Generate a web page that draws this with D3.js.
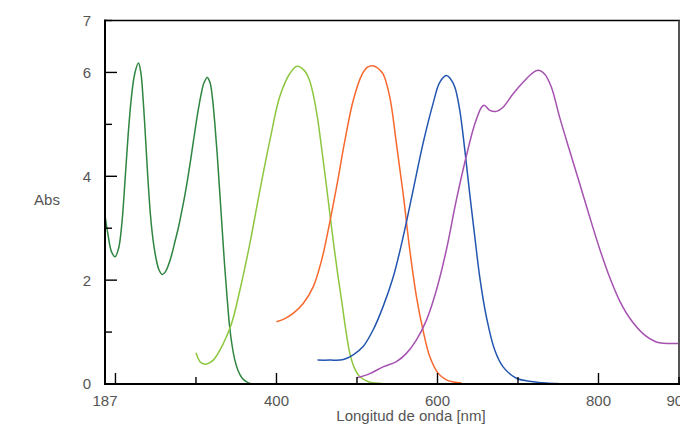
<!DOCTYPE html>
<html>
<head>
<meta charset="utf-8">
<script src="https://cdn.jsdelivr.net/npm/d3@7"></script>
<style>
  html, body { margin: 0; padding: 0; background: #fff; overflow: hidden; }
  svg { display: block; }
  text { font-family: "Liberation Sans", Arial, sans-serif; fill: #555; }
</style>
</head>
<body>
<svg id="chart" width="680" height="424"></svg>
<script>
// Absorption spectra, wavelength (nm) vs absorbance
const spectrumDarkGreen = [
  [187, 3.25], [191, 2.85], [195, 2.55], [199.5, 2.45], [204, 2.62], [208, 3.1],
  [212, 3.95], [216, 4.85], [220, 5.55], [224, 5.98], [228.5, 6.18], [231.5, 6.0],
  [234.5, 5.45], [237.5, 4.7], [240.5, 3.9], [243.5, 3.25], [246.5, 2.8],
  [250, 2.45], [254, 2.2], [258, 2.11], [262, 2.16], [266, 2.3], [270, 2.5],
  [274, 2.75], [278, 3.0], [282, 3.3], [286, 3.62], [290, 3.98], [294, 4.38],
  [298, 4.8], [302, 5.2], [306, 5.55], [310, 5.8], [314, 5.9], [317.5, 5.8],
  [320.5, 5.5], [323.5, 5.0], [326.5, 4.4], [329.5, 3.7], [332.5, 3.0],
  [335.5, 2.3], [338.5, 1.7], [341.5, 1.15], [344.5, 0.78], [348, 0.48],
  [352, 0.27], [357, 0.12], [362, 0.05], [367, 0.01], [375, 0], [392, 0]
];
const spectrumLightGreen = [
  [300, 0.6], [305, 0.43], [309, 0.39], [313.3, 0.385], [321.5, 0.46],
  [334, 0.78], [344.3, 1.17], [354.6, 1.81], [367, 2.71], [379.4, 3.73],
  [391.8, 4.69], [404, 5.53], [416.6, 5.98], [425.7, 6.12], [435, 6.03],
  [441, 5.85], [446, 5.55], [451, 5.12], [456, 4.55], [461, 3.95], [466, 3.32],
  [471, 2.7], [476, 2.12], [481, 1.6], [486, 1.05], [491, 0.6], [497, 0.3],
  [503, 0.15], [515, 0.04], [530, 0.01], [549, 0]
];
const spectrumOrange = [
  [400, 1.2], [410.4, 1.26], [420.7, 1.36], [433.2, 1.55], [445.6, 1.87],
  [456, 2.38], [464.2, 2.96], [474.6, 3.79], [485, 4.69], [495.3, 5.46],
  [505.6, 5.94], [513, 6.1], [520, 6.13], [526, 6.08], [532.4, 5.97],
  [540.7, 5.53], [549, 4.63], [557.3, 3.67], [565.6, 2.58], [573.9, 1.68],
  [582, 1.04], [590.4, 0.53], [600.7, 0.21], [611, 0.08], [620, 0.04],
  [630, 0.02]
];
const spectrumBlue = [
  [451, 0.46], [466.3, 0.46], [483, 0.47], [495.3, 0.56], [507.6, 0.72],
  [520, 1.04], [532.4, 1.49], [545, 2.06], [557.3, 2.83], [569.7, 3.73],
  [582, 4.63], [594.5, 5.4], [602.8, 5.81], [611, 5.94], [616, 5.88],
  [621.5, 5.72], [627.7, 5.27], [634, 4.5], [640, 3.67], [646.4, 2.83],
  [652.5, 2.06], [660.8, 1.29], [671.2, 0.65], [681.5, 0.33], [698, 0.11],
  [718.7, 0.045], [735, 0.02], [750, 0.01]
];
const spectrumPurple = [
  [500, 0.12], [516, 0.2], [532.5, 0.33], [549, 0.43], [561.4, 0.59],
  [573.9, 0.85], [586.3, 1.23], [598.7, 1.81], [611, 2.58], [623.4, 3.54],
  [636, 4.4], [646.4, 5.01], [654.7, 5.33], [658, 5.37], [665, 5.27],
  [673.3, 5.25], [681.5, 5.33], [694, 5.59], [706.3, 5.81], [716.6, 5.97],
  [725, 6.04], [733, 5.97], [741.4, 5.72], [751.7, 5.14], [764, 4.5],
  [776.6, 3.86], [789, 3.22], [801.5, 2.6], [814, 2.05], [826.3, 1.6],
  [838.7, 1.27], [855.3, 0.97], [871.8, 0.81], [888.4, 0.78], [900, 0.78]
];

const seriesNames = ["dark-green", "light-green", "orange", "blue", "purple"];
const seriesData = [spectrumDarkGreen, spectrumLightGreen, spectrumOrange, spectrumBlue, spectrumPurple];
const seriesColors = ["#2e8540", "#8dc63f", "#f7682d", "#2356b0", "#a552b0"];

const xTickValues = [200, 300, 400, 500, 600, 700, 800, 900];
const xMajorTicks = [200, 400, 600, 800];
const xTickLabels = [187, 400, 600, 800, 900];
const yTickValues = [0, 1, 2, 3, 4, 5, 6, 7];
const yTickLabels = [0, 2, 4, 6, 7];

const xTitle = "Longitud de onda [nm]";
const yTitle = "Abs";

const svg = d3.select("#chart");
const plotLeft = 105, plotRight = 679, plotTop = 20.5, plotBottom = 384;
const fontSize = 15;

const x = d3.scaleLinear().domain([187, 900]).range([plotLeft, plotRight]);
const y = d3.scaleLinear().domain([0, 7]).range([plotBottom, plotTop]);

// spectra
const line = d3.line()
  .x(d => x(d[0]))
  .y(d => y(d[1]))
  .curve(d3.curveCatmullRom.alpha(0.5));

svg.append("g")
  .selectAll("path")
  .data(seriesData)
  .join("path")
  .attr("class", (d, i) => "spectrum " + seriesNames[i])
  .attr("d", line)
  .attr("fill", "none")
  .attr("stroke", (d, i) => seriesColors[i])
  .attr("stroke-width", 1.5)
  .attr("stroke-linejoin", "round");

// frame: top and right edges
svg.append("line")
  .attr("x1", plotLeft).attr("x2", plotRight + 1)
  .attr("y1", y(7)).attr("y2", y(7))
  .attr("stroke", "#000").attr("stroke-width", 1.6);
svg.append("line")
  .attr("x1", plotRight).attr("x2", plotRight)
  .attr("y1", y(7)).attr("y2", plotBottom)
  .attr("stroke", "#555").attr("stroke-width", 2);

// x axis with inward ticks
const xAxis = svg.append("g").attr("transform", `translate(0,${plotBottom})`);
xAxis.append("line")
  .attr("x1", plotLeft - 1).attr("x2", plotRight + 1)
  .attr("stroke", "#000").attr("stroke-width", 2);
xAxis.selectAll("line.tick")
  .data(xTickValues)
  .join("line")
  .attr("class", "tick")
  .attr("x1", d => x(d)).attr("x2", d => x(d))
  .attr("y1", 0)
  .attr("y2", d => xMajorTicks.includes(d) ? -11 : -7)
  .attr("stroke", "#000").attr("stroke-width", 1.4);
xAxis.selectAll("text")
  .data(xTickLabels)
  .join("text")
  .attr("x", d => x(d))
  .attr("y", 21.5)
  .attr("text-anchor", "middle")
  .attr("font-size", fontSize)
  .text(d => d);

// y axis with inward ticks
const yAxis = svg.append("g").attr("transform", `translate(${plotLeft},0)`);
yAxis.append("line")
  .attr("y1", plotTop - 1).attr("y2", plotBottom + 1)
  .attr("stroke", "#000").attr("stroke-width", 2);
yAxis.selectAll("line.tick")
  .data(yTickValues)
  .join("line")
  .attr("class", "tick")
  .attr("y1", d => y(d)).attr("y2", d => y(d))
  .attr("x1", 0)
  .attr("x2", d => d % 2 === 0 ? 12 : 7)
  .attr("stroke", "#000").attr("stroke-width", 1.4);
yAxis.selectAll("text")
  .data(yTickLabels)
  .join("text")
  .attr("x", -14)
  .attr("y", d => y(d))
  .attr("dy", "0.36em")
  .attr("text-anchor", "end")
  .attr("font-size", fontSize)
  .text(d => d);

// axis titles
svg.append("text")
  .attr("x", 411).attr("y", 421)
  .attr("text-anchor", "middle")
  .attr("font-size", fontSize)
  .text(xTitle);
svg.append("text")
  .attr("x", 47).attr("y", 205)
  .attr("text-anchor", "middle")
  .attr("font-size", fontSize)
  .text(yTitle);
</script>
</body>
</html>
